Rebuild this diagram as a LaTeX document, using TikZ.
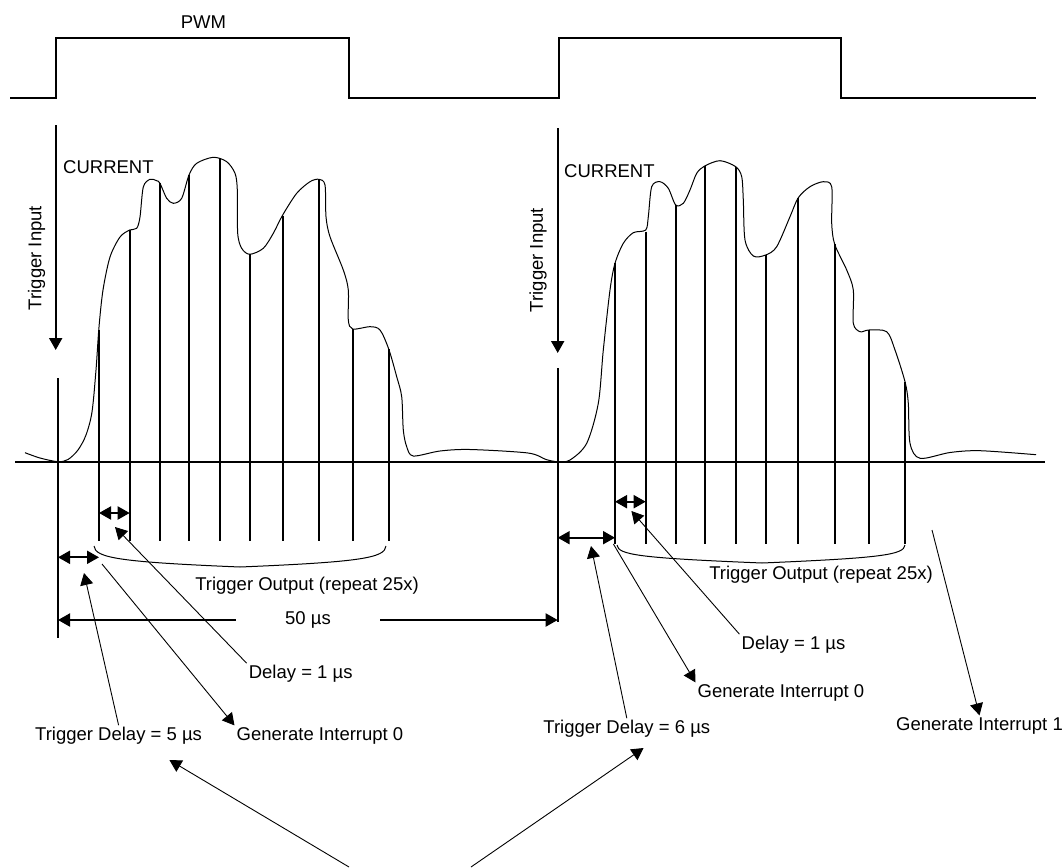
\documentclass[tikz,border=0pt]{standalone}
\usepackage{fontspec}
\setmainfont{Liberation Sans}
\usetikzlibrary{arrows.meta}

\tikzset{
	>={Triangle[length=12pt,width=13pt]},
	sig/.style={line width=2pt},
	wave/.style={line width=1pt},
	lead/.style={line width=0.9pt,->},
	dimarrow/.style={line width=2pt,<->},
	lbl/.style={font=\fontsize{18.5}{22}\selectfont,inner sep=2pt},
}

\begin{document}
\begin{tikzpicture}[x=1pt,y=-1pt]
\useasboundingbox (0,0) rectangle (1062,867);
%
	% PWM signal
	\draw[sig] (10,98) -- (56,98) -- (56,38) -- (349,38) -- (349,98) -- (559,98)
		-- (559,38) -- (841,38) -- (841,98) -- (1036,98);
	\node[lbl] (pwm) at (203.5,22) {PWM};
%
	% time axis
	\draw[sig] (15,462) -- (1045,462);
%
	% current
	\draw[wave] plot[smooth,tension=0.5] coordinates {
		(25,452.7) (40,458) (58,461.7) (68,459.5) (78,450) (86,435) (92,412) (96,370)
		(99,327) (103,290) (110,257) (120,237) (129.7,230) (136.7,228.3) (140,217)
		(143.3,187) (150,179.3) (156.7,180.7) (160,183.3) (166.7,198.3) (173.3,203.3)
		(181.7,198.3) (189,175) (196.7,163.3) (213.3,157.3) (226.7,161.7) (235,173.3)
		(237.3,190) (237.7,233.3) (241.7,248.3) (249.7,254.3) (263.3,248.3) (273.3,233.3)
		(282.7,215) (296.7,193.3) (310,181.7) (319,179.3) (325,185) (326,216.7)
		(330,236.7) (343.3,270) (348.3,290) (348.3,320) (352.7,329) (370,326.7)
		(380,330) (388.7,349) (396.7,376.7) (401.7,396.7) (403.3,430) (406.7,446.7)
		(413.3,456) (440,451) (470,449.5) (528,453) (546,459.5) (557.7,461.7)
		(570,460) (586.7,443.3) (598.3,403.3) (603.3,350) (610,290) (615,263.3)
		(623.3,243.3) (633.3,232.7) (645.7,230) (648.3,216.7) (651.7,186.7) (660,181.7)
		(668.3,188.3) (675.7,205) (683.3,203.3) (690,190) (696.7,173.3) (704.7,166)
		(720,160.7) (735.7,166.7) (741.7,176.7) (743.3,200) (745,240) (753.3,256)
		(765.7,255) (776.7,246.7) (790,216.7) (798.3,197.7) (810,186.7) (823.3,181.7)
		(831.7,186.7) (831.7,223.3) (834.7,244.3) (846.7,270) (853.3,290) (853.3,323.3)
		(860,331.7) (869,330) (886.7,331.7) (895,350) (905,381.7) (908.3,403.3)
		(910,443.3) (920,458.3) (950,452.5) (980,450.7) (1036,454.7)};
	\node[lbl,anchor=west] (cur1) at (61,167) {CURRENT};
	\node[lbl,anchor=west] (cur2) at (562,171) {CURRENT};
%
	% trigger input
	\coordinate (tin1) at (55.7,125);
	\coordinate (tin1e) at (55.7,350);
	\coordinate (tin2) at (557.7,128);
	\coordinate (tin2e) at (557.7,353);
	\draw[sig,->] (tin1) -- (tin1e);
	\draw[sig,->] (tin2) -- (tin2e);
	\node[lbl,rotate=90] (trin1) at (36.7,258) {Trigger Input};
	\node[lbl,rotate=90] (trin2) at (538,260) {Trigger Input};
	\draw[sig] (58,378) -- (58,638);
	\draw[sig] (557.7,368) -- (557.7,622);
%
	% trigger outputs
	\foreach \x/\top in {99/330,129.7/230,160/183.3,189/175,219.7/159.3,249.7/254.3,
		282.7/215.7,319/179.3,352.7/329,388.7/349}
		\draw[sig] (\x,\top) -- (\x,541);
	\foreach \x/\top in {615/263.3,645.7/231.7,675.7/205,704.7/166,735.7/166.7,765.7/255,
		798.3/197.7,834.7/244.3,869/330,905/381.7}
		\draw[sig] (\x,\top) -- (\x,544);
%
	% delays
	\draw[dimarrow] (99,513) -- (129.7,513);
	\draw[dimarrow] (58,557.3) -- (99,557.3);
	\draw[dimarrow] (615,501.7) -- (645.7,501.7);
	\draw[dimarrow] (557.7,537.7) -- (615,537.7);
%
	% brackets
	\draw[wave] (94,546) .. controls (95,558) and (120,562) .. (240,567)
		.. controls (360,562) and (385,558) .. (386,546);
	\draw[wave] (617,545) .. controls (618,555) and (640,558) .. (762,563)
		.. controls (880,558) and (904,555) .. (905,545);
	\node[lbl] (tout1) at (307,586) {Trigger Output (repeat 25x)};
	\node[lbl] (tout2) at (821,575) {Trigger Output (repeat 25x)};
%
	% period
	\node[lbl,minimum width=144pt] (fifty) at (308,620) {50 µs};
	\coordinate (per1) at (58,620);
	\coordinate (per2) at (557.7,620);
	\draw[sig,->] (fifty.west) -- (per1);
	\draw[sig,->] (fifty.east) -- (per2);
%
	% labels
	\node[lbl] (dly1) at (300.7,674) {Delay = 1 µs};
	\node[lbl] (gia) at (320,736) {Generate Interrupt 0};
	\node[lbl] (tdly5) at (118.6,736) {Trigger Delay = 5 µs};
	\node[lbl] (dly2) at (793.5,645) {Delay = 1 µs};
	\node[lbl] (gib) at (781,693) {Generate Interrupt 0};
	\node[lbl] (tdly6) at (626.8,729) {Trigger Delay = 6 µs};
	\node[lbl] (gic) at (979.5,726) {Generate Interrupt 1};
%
	% leaders
	\coordinate (d1tip) at (115,527);
	\coordinate (td5tip) at (84,573);
	\coordinate (gia0) at (102,564);
	\coordinate (d2tip) at (631.4,511);
	\coordinate (td6tip) at (591,546);
	\coordinate (gib0) at (613.4,544);
	\coordinate (gic0) at (932,530);
	\coordinate (vbot1) at (349,867);
	\coordinate (vbot2) at (471,867);
	\coordinate (v5tip) at (169.4,760);
	\coordinate (v6tip) at (643.6,748);
	\draw[lead] (dly1.north west) -- (d1tip);
	\draw[lead] (tdly5.north) -- (td5tip);
	\draw[lead] (gia0) -- (gia.north west);
	\draw[lead] (dly2.north west) -- (d2tip);
	\draw[lead] (tdly6.north) -- (td6tip);
	\draw[lead] (gib0) -- (gib.north west);
	\draw[lead] (gic0) -- (gic.north);
	\draw[lead] (vbot1) -- (v5tip);
	\draw[lead] (vbot2) -- (v6tip);
\end{tikzpicture}
\end{document}
